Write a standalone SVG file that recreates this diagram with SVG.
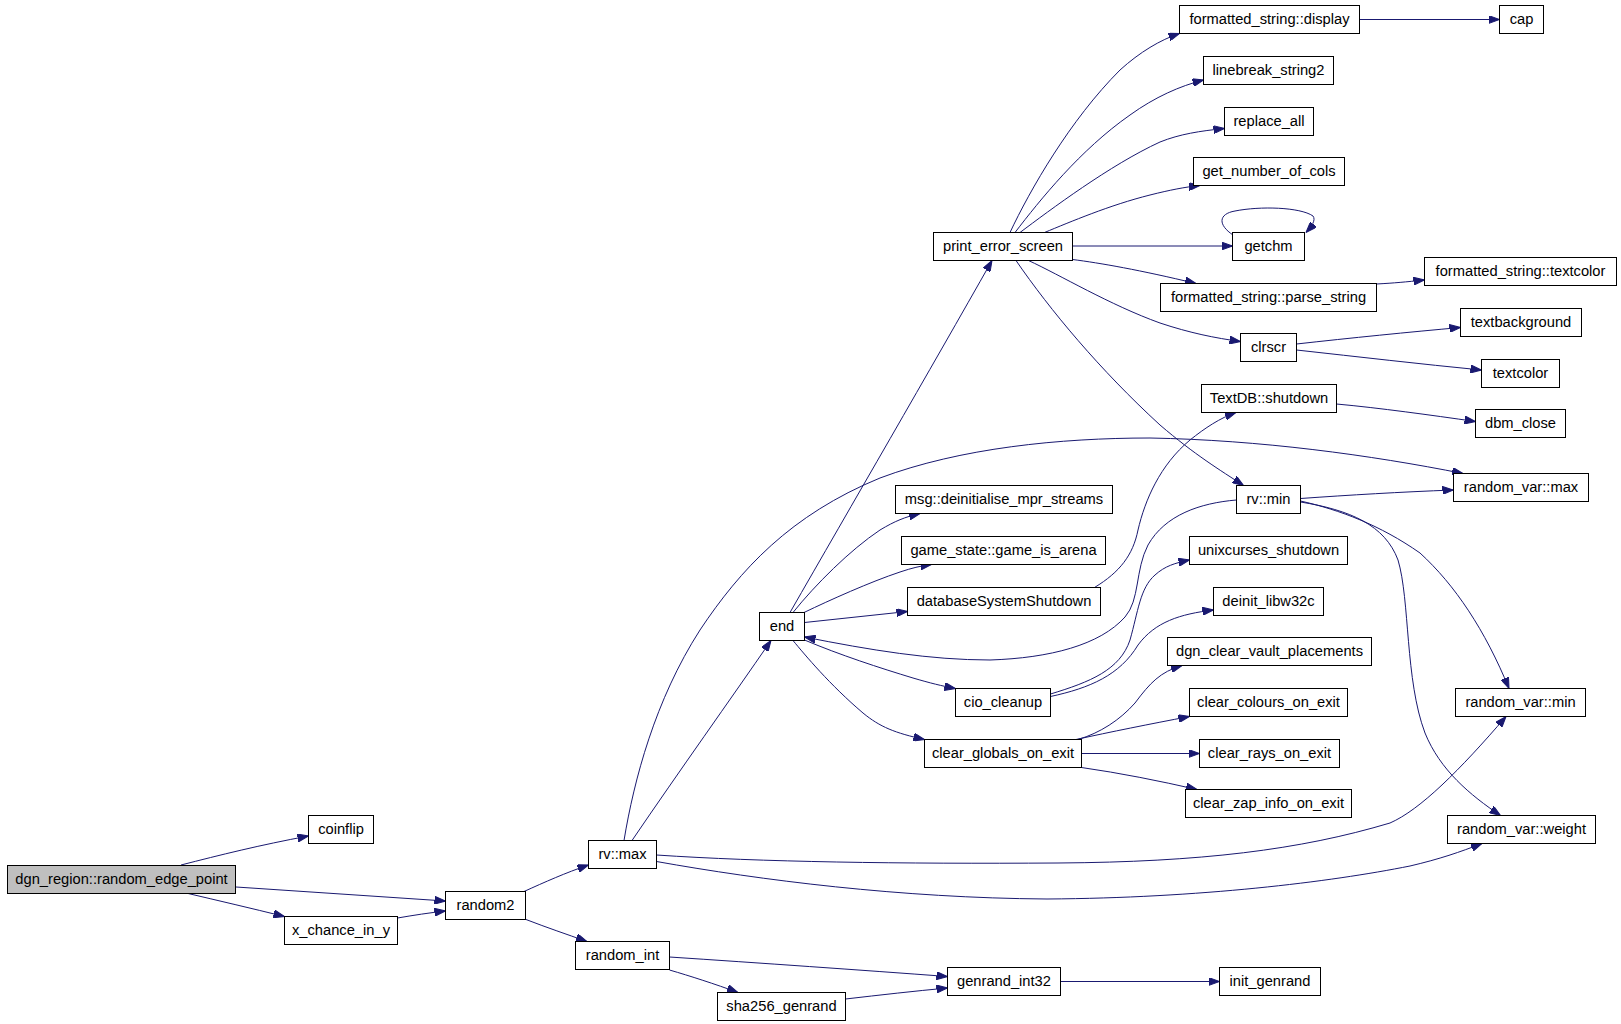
<svg xmlns="http://www.w3.org/2000/svg" width="1621" height="1024" viewBox="0 0 1621 1024">
<defs>
<style>
.n rect{fill:#fff;stroke:#000;stroke-width:1}
.n.main rect{fill:#bfbfbf}
.n text{font-family:"Liberation Sans",Arial,sans-serif;font-size:14.7px;fill:#000;text-anchor:middle}
#edges path{fill:none;stroke:#191970;stroke-width:1;marker-end:url(#ah)}
</style>
<marker id="ah" markerUnits="userSpaceOnUse" markerWidth="11" markerHeight="8" viewBox="0 0 11 8" refX="11" refY="4" orient="auto">
<path d="M0,0 L11,4 L0,8 Z" fill="#191970" stroke="#191970" stroke-width="1"/>
</marker>
</defs>
<rect x="0" y="0" width="1621" height="1024" fill="#fff"/>
<g id="edges">
<path d="M181,865 C220,855 260,845 308.5,836"/>
<path d="M236,887 L445.5,901"/>
<path d="M186,893 C220,901 250,908 284.5,916.5"/>
<path d="M397.5,918 C415,915 428,913 445.5,911"/>
<path d="M524,891.5 C545,882 565,873 588.5,865"/>
<path d="M526,919.5 C548,928 566,934 587,941.5"/>
<path d="M632,840.5 C680,770 730,700 771,640.5"/>
<path d="M624,840.5 C634,780 655,700 700,630 C740,570 790,515 880,478 C960,448 1060,438 1150,438 C1260,440 1370,455 1463,473.5"/>
<path d="M656.5,855 C760,862 900,864 1058,863 C1200,862 1300,850 1390,823 C1420,810 1460,770 1506,716.5"/>
<path d="M656.5,861.5 C760,880 900,898 1047,899 C1200,898 1330,882 1410,866 C1440,859 1460,852 1482,843.5"/>
<path d="M669.5,957 C760,963 860,970 947.5,976.5"/>
<path d="M669.5,970 C690,976 715,984 738,992.5"/>
<path d="M845.5,999 C880,995 915,991 947.5,988"/>
<path d="M1060.5,981.5 L1219.5,981.5"/>
<path d="M790,612.5 C850,508 930,370 992,260.5"/>
<path d="M793,612.5 C815,585 850,550 880,530 C895,521 905,517 920,513.5"/>
<path d="M804,612.5 C830,600 870,582 900,572 C912,568 920,566 931.5,564.5"/>
<path d="M804.5,622.5 L907.5,611.5"/>
<path d="M1236.5,500 C1200,503 1165,515 1148,545 C1135,570 1140,600 1125,617 C1100,645 1050,658 990,660 C930,660 870,650 804.5,637"/>
<path d="M804.5,640 C840,655 880,668 913,678 C930,683 942,686 955.5,688.5"/>
<path d="M793,640.5 C805,655 830,685 863,713 C880,727 895,733 924.5,739.5"/>
<path d="M1010,232.5 C1030,190 1070,120 1120,70 C1140,52 1160,40 1179.5,33.5"/>
<path d="M1015,232.5 C1040,200 1080,150 1130,115 C1155,97 1180,86 1203.5,80"/>
<path d="M1020,232.5 C1050,210 1110,165 1160,142 C1180,134 1200,131 1224.5,128.5"/>
<path d="M1044.5,232.5 C1070,222 1110,205 1150,195 C1170,190 1185,187 1200,185.5"/>
<path d="M1072.5,246 L1232.5,246"/>
<path d="M1233,235 C1218,225 1218,214 1235,211 C1260,206 1300,207 1313,216 C1316,220 1312,226 1306,232.5"/>
<path d="M1072.5,259.5 C1100,263 1140,270 1196,283.5"/>
<path d="M1028.5,260.5 C1060,275 1110,305 1160,323 C1190,333 1215,338 1240.5,341.5"/>
<path d="M1016,260.5 C1050,310 1100,370 1160,425 C1195,455 1220,470 1243.5,485.5"/>
<path d="M1359.5,19.5 L1499.5,19.5"/>
<path d="M1376.5,284 C1395,283 1405,282 1424.5,280"/>
<path d="M1296.5,344 C1350,338 1410,332 1460.5,327.5"/>
<path d="M1296.5,350 C1360,357 1420,364 1481.5,370"/>
<path d="M1336.5,404 C1380,408 1430,415 1475.5,421.5"/>
<path d="M1094.5,587.5 C1120,572 1133,555 1138,530 C1145,500 1160,465 1190,440 C1205,428 1220,418 1236,412.5"/>
<path d="M1300.5,498.5 C1350,495 1400,492 1453.5,490"/>
<path d="M1300.5,501 C1340,510 1380,525 1420,553 C1455,585 1485,630 1509,688.5"/>
<path d="M1300.5,502 C1350,510 1385,525 1398,560 C1410,600 1405,680 1425,733 C1440,770 1470,795 1500.5,815.5"/>
<path d="M1050.5,694 C1090,682 1120,670 1130,640 C1138,612 1140,588 1155,575 C1165,566 1175,563 1189.5,560"/>
<path d="M1050.5,696.5 C1090,688 1120,675 1138,645 C1155,622 1180,614 1213.5,610"/>
<path d="M1078,739.5 C1100,733 1120,720 1135,703 C1150,683 1160,672 1182,665.5"/>
<path d="M1076,739.5 C1110,732 1150,724 1189.5,716.5"/>
<path d="M1081.5,753.5 L1199.5,753.5"/>
<path d="M1081.5,767.5 C1120,773 1160,781 1197,789.5"/>
</g>
<g id="n_dgn_region_random_edge_point" class="n main"><rect x="7.5" y="865.5" width="228" height="28"/><text x="121.5" y="884">dgn_region::random_edge_point</text></g>
<g id="n_coinflip" class="n"><rect x="308.5" y="815.5" width="65" height="28"/><text x="341" y="834">coinflip</text></g>
<g id="n_random2" class="n"><rect x="445.5" y="891.5" width="80" height="28"/><text x="485.5" y="910">random2</text></g>
<g id="n_x_chance_in_y" class="n"><rect x="284.5" y="916.5" width="113" height="28"/><text x="341" y="935">x_chance_in_y</text></g>
<g id="n_rv_max" class="n"><rect x="588.5" y="840.5" width="68" height="28"/><text x="622.5" y="859">rv::max</text></g>
<g id="n_random_int" class="n"><rect x="575.5" y="941.5" width="94" height="28"/><text x="622.5" y="960">random_int</text></g>
<g id="n_genrand_int32" class="n"><rect x="947.5" y="967.5" width="113" height="28"/><text x="1004" y="986">genrand_int32</text></g>
<g id="n_sha256_genrand" class="n"><rect x="717.5" y="992.5" width="128" height="28"/><text x="781.5" y="1011">sha256_genrand</text></g>
<g id="n_init_genrand" class="n"><rect x="1219.5" y="967.5" width="101" height="28"/><text x="1270" y="986">init_genrand</text></g>
<g id="n_end" class="n"><rect x="759.5" y="612.5" width="45" height="28"/><text x="782" y="631">end</text></g>
<g id="n_print_error_screen" class="n"><rect x="933.5" y="232.5" width="139" height="28"/><text x="1003" y="251">print_error_screen</text></g>
<g id="n_formatted_string_display" class="n"><rect x="1179.5" y="5.5" width="180" height="28"/><text x="1269.5" y="24">formatted_string::display</text></g>
<g id="n_cap" class="n"><rect x="1499.5" y="5.5" width="44" height="28"/><text x="1521.5" y="24">cap</text></g>
<g id="n_linebreak_string2" class="n"><rect x="1203.5" y="56.5" width="130" height="28"/><text x="1268.5" y="75">linebreak_string2</text></g>
<g id="n_replace_all" class="n"><rect x="1224.5" y="107.5" width="89" height="28"/><text x="1269" y="126">replace_all</text></g>
<g id="n_get_number_of_cols" class="n"><rect x="1193.5" y="157.5" width="151" height="28"/><text x="1269" y="176">get_number_of_cols</text></g>
<g id="n_getchm" class="n"><rect x="1232.5" y="232.5" width="72" height="28"/><text x="1268.5" y="251">getchm</text></g>
<g id="n_formatted_string_parse_string" class="n"><rect x="1160.5" y="283.5" width="216" height="28"/><text x="1268.5" y="302">formatted_string::parse_string</text></g>
<g id="n_formatted_string_textcolor" class="n"><rect x="1424.5" y="257.5" width="192" height="28"/><text x="1520.5" y="276">formatted_string::textcolor</text></g>
<g id="n_clrscr" class="n"><rect x="1240.5" y="333.5" width="56" height="28"/><text x="1268.5" y="352">clrscr</text></g>
<g id="n_textbackground" class="n"><rect x="1460.5" y="308.5" width="121" height="28"/><text x="1521" y="327">textbackground</text></g>
<g id="n_textcolor" class="n"><rect x="1481.5" y="359.5" width="78" height="28"/><text x="1520.5" y="378">textcolor</text></g>
<g id="n_TextDB_shutdown" class="n"><rect x="1201.5" y="384.5" width="135" height="28"/><text x="1269" y="403">TextDB::shutdown</text></g>
<g id="n_dbm_close" class="n"><rect x="1475.5" y="409.5" width="90" height="28"/><text x="1520.5" y="428">dbm_close</text></g>
<g id="n_random_var_max" class="n"><rect x="1453.5" y="473.5" width="135" height="28"/><text x="1521" y="492">random_var::max</text></g>
<g id="n_rv_min" class="n"><rect x="1236.5" y="485.5" width="64" height="28"/><text x="1268.5" y="504">rv::min</text></g>
<g id="n_msg_deinitialise_mpr_streams" class="n"><rect x="895.5" y="485.5" width="217" height="28"/><text x="1004" y="504">msg::deinitialise_mpr_streams</text></g>
<g id="n_game_state_game_is_arena" class="n"><rect x="901.5" y="536.5" width="204" height="28"/><text x="1003.5" y="555">game_state::game_is_arena</text></g>
<g id="n_unixcurses_shutdown" class="n"><rect x="1189.5" y="536.5" width="158" height="28"/><text x="1268.5" y="555">unixcurses_shutdown</text></g>
<g id="n_databaseSystemShutdown" class="n"><rect x="907.5" y="587.5" width="193" height="28"/><text x="1004" y="606">databaseSystemShutdown</text></g>
<g id="n_deinit_libw32c" class="n"><rect x="1213.5" y="587.5" width="110" height="28"/><text x="1268.5" y="606">deinit_libw32c</text></g>
<g id="n_dgn_clear_vault_placements" class="n"><rect x="1167.5" y="637.5" width="204" height="28"/><text x="1269.5" y="656">dgn_clear_vault_placements</text></g>
<g id="n_cio_cleanup" class="n"><rect x="955.5" y="688.5" width="95" height="28"/><text x="1003" y="707">cio_cleanup</text></g>
<g id="n_clear_colours_on_exit" class="n"><rect x="1189.5" y="688.5" width="158" height="28"/><text x="1268.5" y="707">clear_colours_on_exit</text></g>
<g id="n_random_var_min" class="n"><rect x="1455.5" y="688.5" width="130" height="28"/><text x="1520.5" y="707">random_var::min</text></g>
<g id="n_clear_globals_on_exit" class="n"><rect x="924.5" y="739.5" width="157" height="28"/><text x="1003" y="758">clear_globals_on_exit</text></g>
<g id="n_clear_rays_on_exit" class="n"><rect x="1199.5" y="739.5" width="140" height="28"/><text x="1269.5" y="758">clear_rays_on_exit</text></g>
<g id="n_clear_zap_info_on_exit" class="n"><rect x="1185.5" y="789.5" width="166" height="28"/><text x="1268.5" y="808">clear_zap_info_on_exit</text></g>
<g id="n_random_var_weight" class="n"><rect x="1447.5" y="815.5" width="148" height="28"/><text x="1521.5" y="834">random_var::weight</text></g>
</svg>
